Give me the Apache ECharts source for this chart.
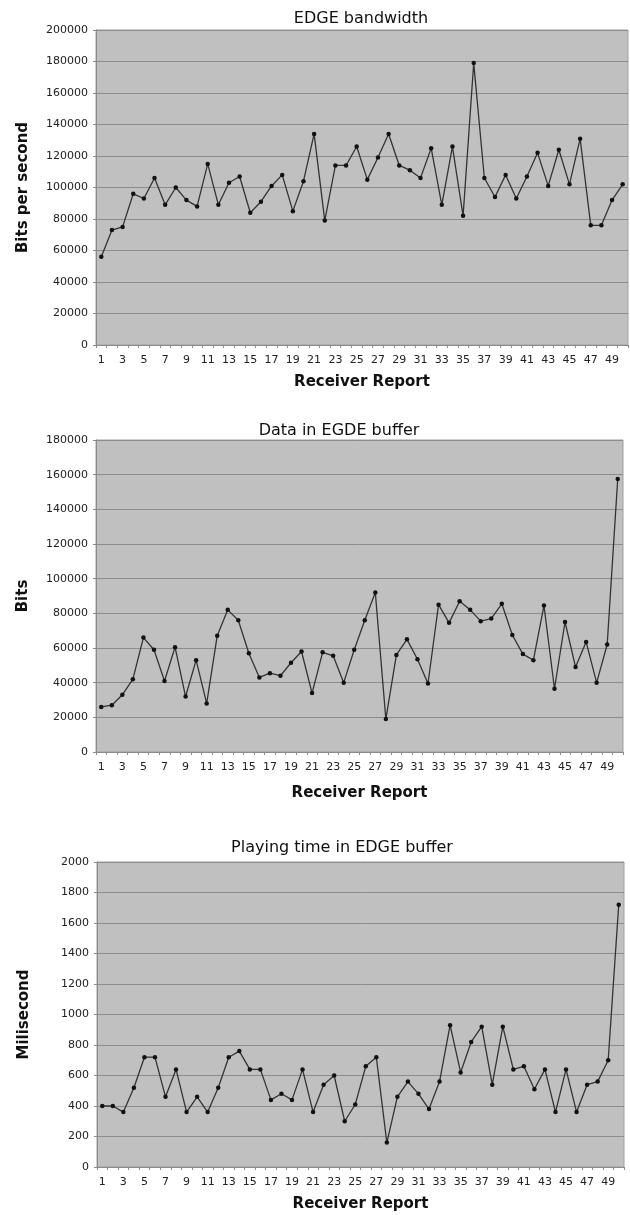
<!DOCTYPE html>
<html>
<head>
<meta charset="utf-8">
<script src="https://cdn.jsdelivr.net/npm/echarts@6/dist/echarts.min.js"></script>
<style>
html,body{margin:0;padding:0;background:#fff;}
#chart{width:630px;height:1215px;}
</style>
</head>
<body>
<div id="chart"></div>
<script>
const reports = Array.from({length: 50}, (_, i) => String(i + 1));

const titles = ['EDGE bandwidth', 'Data in EGDE buffer', 'Playing time in EDGE buffer'];
const yNames = ['Bits per second', 'Bits', 'Milisecond'];
const xName = 'Receiver Report';

const bandwidth = [
  56000, 73000, 75000, 96000, 93000, 106000, 89000, 100000, 92000, 88000,
  115000, 89000, 103000, 107000, 84000, 91000, 101000, 108000, 85000, 104000,
  134000, 79000, 114000, 114000, 126000, 105000, 119000, 134000, 114000, 111000,
  106000, 125000, 89000, 126000, 82000, 179000, 106000, 94000, 108000, 93000,
  107000, 122000, 101000, 124000, 102000, 131000, 76000, 76000, 92000, 102000
];

const bufferData = [
  26000, 27000, 33000, 42000, 66000, 59000, 41000, 60500, 32000, 53000,
  28000, 67000, 82000, 76000, 57000, 43000, 45500, 44000, 51500, 58000,
  34000, 57500, 55500, 40000, 59000, 76000, 92000, 19000, 56000, 65000,
  53500, 39500, 85000, 74500, 87000, 82000, 75500, 77000, 85500, 67500,
  56500, 53000, 84500, 36500, 75000, 49000, 63500, 40000, 62000, 157500
];

const playingTime = [
  400, 400, 360, 520, 720, 720, 460, 640, 360, 460,
  360, 520, 720, 760, 640, 640, 440, 480, 440, 640,
  360, 540, 600, 300, 410, 660, 720, 160, 460, 560,
  480, 380, 560, 930, 620, 820, 920, 540, 920, 640,
  660, 510, 640, 360, 640, 360, 540, 560, 700, 1720
];

const yMax = [200000, 180000, 2000];
const yStep = [20000, 20000, 200];
const seriesData = [bandwidth, bufferData, playingTime];

const grids = [
  {left: 96, width: 532, top: 30, height: 315},
  {left: 96, width: 527, top: 440, height: 312},
  {left: 97, width: 527, top: 862, height: 305}
];
const titlePos = [{x: 356, y: 6}, {x: 334, y: 418}, {x: 337, y: 835}];
const xNameGap = [30, 34, 30];

const font = 'DejaVu Sans';

const option = {
  backgroundColor: '#ffffff',
  animation: false,
  title: titles.map((t, i) => ({
    text: t,
    left: titlePos[i].x,
    top: titlePos[i].y,
    textAlign: 'center',
    textStyle: {fontFamily: font, fontSize: 16, fontWeight: 'normal', color: '#111'}
  })),
  grid: grids.map(g => Object.assign({
    show: true, backgroundColor: '#c0c0c0', borderColor: '#a0a0a0', borderWidth: 1
  }, g)),
  xAxis: grids.map((g, i) => ({
    type: 'category',
    gridIndex: i,
    data: reports,
    boundaryGap: true,
    name: xName,
    nameLocation: 'middle',
    nameGap: xNameGap[i],
    nameTextStyle: {fontFamily: font, fontSize: 15, fontWeight: 'bold', color: '#111'},
    axisLine: {lineStyle: {color: '#8a8a8a', width: 1}},
    axisTick: {show: true, length: 3, interval: 0, lineStyle: {color: '#8a8a8a'}},
    axisLabel: {interval: 1, margin: 10, fontFamily: font, fontSize: 11, color: '#222'},
    splitLine: {show: false}
  })),
  yAxis: grids.map((g, i) => ({
    type: 'value',
    gridIndex: i,
    min: 0,
    max: yMax[i],
    interval: yStep[i],
    name: yNames[i],
    nameLocation: 'middle',
    nameRotate: 90,
    nameGap: 65,
    nameTextStyle: {fontFamily: font, fontSize: 15, fontWeight: 'bold', color: '#111'},
    axisLine: {show: true, lineStyle: {color: '#8a8a8a', width: 1}},
    axisTick: {show: true, length: 3, lineStyle: {color: '#8a8a8a'}},
    axisLabel: {margin: 8, fontFamily: font, fontSize: 11, color: '#222',
      formatter: v => String(v)},
    splitLine: {show: true, lineStyle: {color: '#8c8c8c', width: 1}}
  })),
  series: seriesData.map((d, i) => ({
    type: 'line',
    xAxisIndex: i,
    yAxisIndex: i,
    data: d,
    symbol: 'circle',
    symbolSize: 4.5,
    showSymbol: true,
    lineStyle: {color: '#333333', width: 1.3},
    itemStyle: {color: '#111111'}
  }))
};

const chart = echarts.init(document.getElementById('chart'), null, {renderer: 'canvas'});
chart.setOption(option);
</script>
</body>
</html>
